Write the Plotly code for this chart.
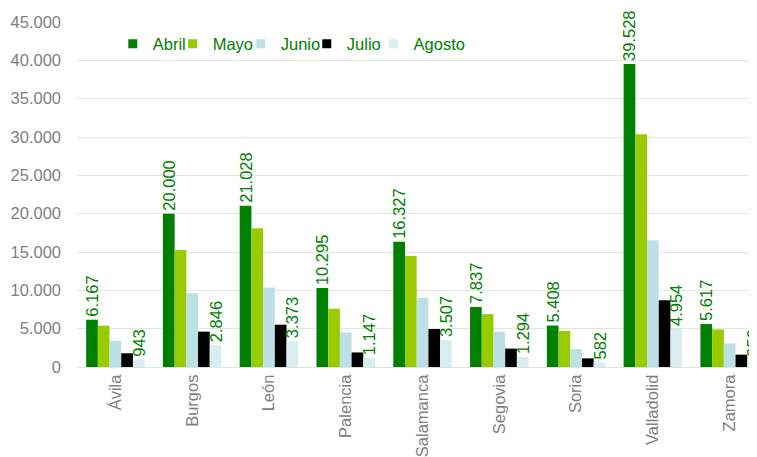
import plotly.graph_objects as go

categories = ["Ávila", "Burgos", "León", "Palencia", "Salamanca", "Segovia", "Soria", "Valladolid", "Zamora"]
abril = [6167, 20000, 21028, 10295, 16327, 7837, 5408, 39528, 5617]
mayo = [5390, 15260, 18090, 7600, 14480, 6900, 4700, 30350, 4910]
junio = [3390, 9610, 10350, 4500, 9000, 4600, 2350, 16520, 3090]
julio = [1790, 4610, 5520, 1900, 4960, 2400, 1130, 8700, 1610]
agosto = [943, 2846, 3373, 1147, 3507, 1294, 582, 4954, 959]
series_names = ["Abril", "Mayo", "Junio", "Julio", "Agosto"]

colors = ["#008000", "#99CC00", "#BDE0E5", "#000000", "#DAEEF1"]
labeled = [True, False, False, False, True]
legend_ids = ["legend", "legend2", "legend3", "legend4", "legend5"]
legend_x = [0.052, 0.139, 0.238, 0.334, 0.431]

fig = go.Figure()
for i, (name, vals) in enumerate(zip(series_names, [abril, mayo, junio, julio, agosto])):
    fig.add_trace(go.Bar(
        name=name, x=categories, y=vals,
        marker=dict(color=colors[i], line=dict(width=0)),
        texttemplate="%{y:,}" if labeled[i] else None,
        textposition="outside" if labeled[i] else "none",
        textangle=-90,
        textfont=dict(color="#008000", size=16.5, family="Liberation Sans, Arial"),
        constraintext="none",
        cliponaxis=False,
        showlegend=False,
    ))
    # legend key (square marker, no data)
    fig.add_trace(go.Scatter(
        name=name, x=[None], y=[None], mode="markers",
        marker=dict(symbol="square", size=9, color=colors[i], line=dict(width=0)),
        legend=legend_ids[i], showlegend=True, hoverinfo="skip",
    ))

legend_common = dict(
    orientation="h", y=0.936, xanchor="left", yanchor="middle",
    font=dict(color="#008000", size=16.5, family="Liberation Sans, Arial"),
    bgcolor="rgba(0,0,0,0)", itemwidth=30, borderwidth=0,
)
layout_legends = {lid: dict(x=lx, **legend_common) for lid, lx in zip(legend_ids, legend_x)}

fig.update_layout(
    width=757, height=457,
    barmode="group", bargap=0.238, bargroupgap=0,
    separators=",.",
    paper_bgcolor="white", plot_bgcolor="white",
    margin=dict(l=69, r=0, t=14, b=98, autoexpand=False),
    font=dict(family="Liberation Sans, Arial", size=16, color="#808080"),
    **layout_legends,
)
fig.update_xaxes(
    range=[-0.5, 8.46], tickangle=-90, showline=True, linecolor="#D9E6D9", linewidth=1,
    showgrid=False, ticks="", tickfont=dict(color="#808080", size=16.5),
)
fig.update_yaxes(
    range=[0, 45000], dtick=5000, tickformat=",", showgrid=True, gridcolor="#DCE9DC",
    gridwidth=1, zeroline=False, showline=False, ticks="", ticklabelstandoff=15,
    tickfont=dict(color="#808080", size=16.5),
)

fig.write_html("out.html")
